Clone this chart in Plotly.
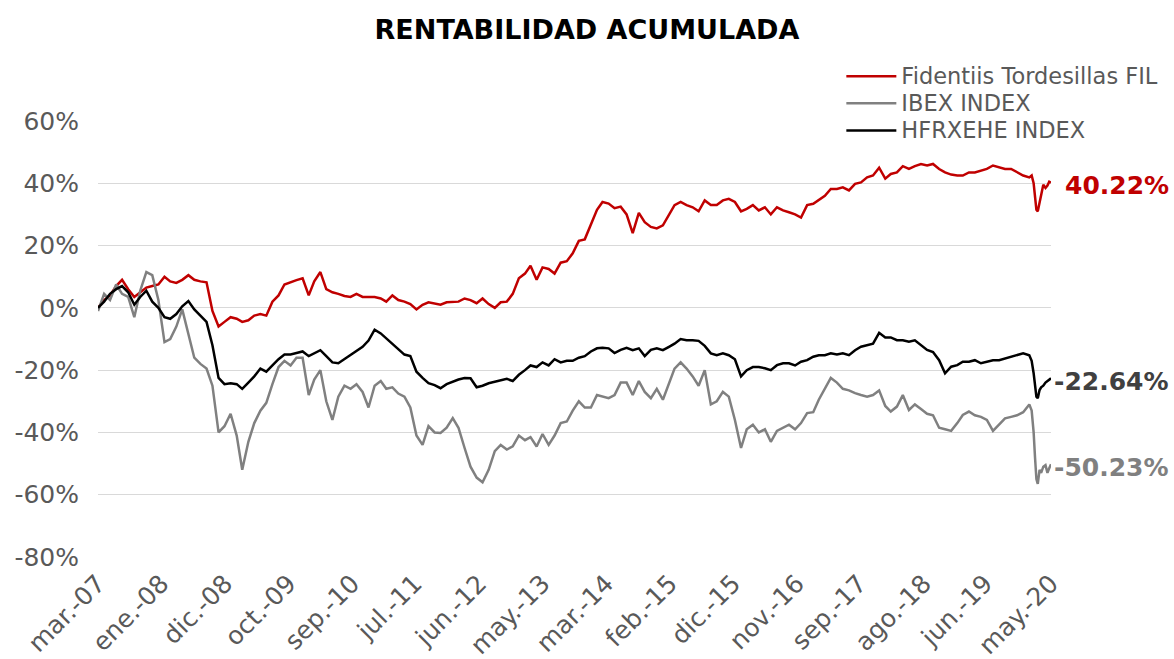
import pandas as pd
import plotly.graph_objects as go

# ---- x positions: monthly observations, plus denser points for the 2020 crash ----
monthly_dates = list(pd.date_range("2007-03-09", periods=156, freq=pd.DateOffset(months=1)))
tail_dates = ["2020-02-21", "2020-03-02", "2020-03-09", "2020-03-16", "2020-03-23", "2020-04-01",
              "2020-04-09", "2020-04-20", "2020-05-01", "2020-05-11", "2020-05-20", "2020-05-29"]
dates = monthly_dates + list(pd.to_datetime(tail_dates))

# ---- cumulative returns (%) ----
fidentiis = [
    0, 2.5, 4, 7, 9, 6, 3.5, 5, 6.5, 7, 7.5, 10, 8.5, 8, 9, 10.5, 9, 8.5, 8.2,
    -1, -6, -4.5, -3, -3.5, -4.5, -4, -2.5, -2, -2.5, 2, 4, 7.5, 8.3, 8.9, 9.5, 4, 8.5, 11.5, 6,
    5, 4.5, 3.8, 3.5, 4.5, 3.5, 3.5, 3.5, 3, 2, 4, 2.5, 2, 1.2, -0.5, 1, 1.8, 1.4, 1, 1.8,
    1.9, 2, 3, 2.5, 1.5, 3, 1.2, 0, 1.8, 2, 4.5, 9.5, 11, 13.5, 9, 13, 12.5, 11, 14.5, 15,
    17.5, 21.5, 22, 26.5, 31.5, 34, 33.5, 32, 32.5, 30, 24, 30.5, 27.5, 26, 25.5, 26.5, 30, 33, 34, 33,
    32.3, 31, 34.5, 33, 33, 34.5, 35, 34, 31, 31.8, 33, 31.3, 32.3, 30, 32.3, 31.3, 30.7, 30, 29, 33,
    33.4, 34.5, 36, 38.2, 38.2, 38.7, 37.7, 39.8, 40.3, 41.9, 42.5, 45, 41.5, 43, 43.5, 45.5, 44.6, 45.5, 46.2, 45.7,
    46.2, 44.6, 43.5, 42.8, 42.5, 42.5, 43.5, 43.5, 44, 44.6, 45.7, 45.1, 44.6, 44.6, 43.5, 42.5, 41.9,
    42.5, 40, 35.5, 31.5, 31, 34, 36.6, 39.5, 38.5, 39.3, 40.5, 40.22,
]
ibex = [
    -1, 4.5, 2.5, 7.5, 4.5, 3.5, -3, 5.5, 11.5, 10.5, 2.5, -11, -10, -6, -0.5, -8, -16, -18, -19.5,
    -25, -40, -38, -34, -41, -52, -43, -37, -33, -30.5, -24.5, -19, -17, -18.5, -16, -16, -28, -23, -20, -30,
    -36, -28.5, -25, -26, -24.5, -27, -32, -25, -23.5, -26, -25.5, -27.5, -28.5, -32, -41, -44, -38, -40, -40.2, -38.5,
    -35.4, -38.5, -45, -51, -54.5, -56, -52, -46, -44, -45.5, -44.5, -41, -42.5, -41.5, -44.5, -40.5, -44, -41, -37, -36.5,
    -33, -30, -32, -32, -28, -28.5, -29, -28, -24, -24, -28, -23.5, -27, -29, -26, -29.5, -24, -19.5, -17.5, -19.5,
    -22, -25, -20, -31, -30, -27, -28.5, -36, -45, -39, -37.5, -40, -39, -43, -39.5, -38.5, -37.5, -39, -37, -33.8,
    -33.5, -29.5, -26, -22.5, -24, -26, -26.5, -27.4, -28, -28.5, -28, -26.5, -31.5, -33.3, -31.7, -28, -32.8, -31, -32.5, -34,
    -34.5, -38.5, -39, -39.5, -37, -34.4, -33.3, -34.5, -35, -36, -39.5, -37.5, -35.5, -35, -34.5, -33.5, -31,
    -33, -40, -48, -55, -56.5, -52, -53, -51, -50.5, -53, -51.5, -50.23,
]
hfrxehe = [
    0, 2, 4.5, 6, 7, 5, 1, 3.5, 5.5, 2, 0, -3, -3.5, -2, 0.5, 2.2, -0.5, -2.5, -4.5,
    -12, -22.5, -24.5, -24.2, -24.5, -26, -24, -22, -19.5, -20.5, -18.5, -16.5, -15, -15, -14.5, -14, -15.5, -14.6, -13.6, -15.5,
    -17.5, -17.8, -16.5, -15.2, -13.8, -12.5, -10.5, -7, -8.2, -9.8, -11.5, -13, -15, -15.5, -20.5, -22.5, -24.2, -24.8, -25.8, -24.5,
    -23.7, -23, -22.5, -22.6, -25.5, -25, -24.2, -23.7, -23.4, -22.8, -23.5, -21.5, -20, -18.5, -19, -17.5, -18.5, -16.5, -17.5, -17,
    -17, -16, -15.5, -14, -13, -12.8, -13, -14.5, -13.5, -12.8, -13.6, -13, -15.5, -13.5, -13, -13.6, -12.5, -11.5, -10, -10.4,
    -10.4, -10.6, -12.2, -14.6, -15.2, -14.6, -15.2, -16.5, -22, -20, -19, -19, -19.4, -20, -18.4, -17.8, -17.8, -18.5, -17.3, -16.8,
    -15.7, -15.2, -15.2, -14.6, -15, -14.6, -15.2, -13.6, -12.5, -12, -11.5, -8, -9.5, -9.5, -10.4, -10.4, -10.9, -10.4, -12, -13.5,
    -14.2, -16.8, -21, -18.9, -18.4, -17.3, -17.3, -16.8, -17.8, -17.3, -16.8, -16.8, -16.2, -15.7, -15.2, -14.6, -15.2,
    -17, -21, -25.3, -28.5, -29, -26.4, -25.5, -25, -24, -23.5, -23, -22.64,
]

series_names = ["Fidentiis Tordesillas FIL", "IBEX INDEX", "HFRXEHE INDEX"]
series_colors = ["#C00000", "#808080", "#000000"]

# ---- axis ticks ----
tick_dates = ["2007-03-09", "2008-01-25", "2008-12-12", "2009-10-30", "2010-09-17", "2011-07-31",
              "2012-06-22", "2013-05-10", "2014-03-28", "2015-02-13", "2015-12-31", "2016-11-18",
              "2017-09-30", "2018-08-24", "2019-06-30", "2020-05-29"]
tick_labels = ["mar.-07", "ene.-08", "dic.-08", "oct.-09", "sep.-10", "jul.-11", "jun.-12", "may.-13",
               "mar.-14", "feb.-15", "dic.-15", "nov.-16", "sep.-17", "ago.-18", "jun.-19", "may.-20"]
y_ticks = [-80, -60, -40, -20, 0, 20, 40, 60]
y_labels = ["-80%", "-60%", "-40%", "-20%", "0%", "20%", "40%", "60%"]

FONT = "DejaVu Sans"
fig = go.Figure()
for name, vals, col in zip(series_names, [fidentiis, ibex, hfrxehe], series_colors):
    fig.add_trace(go.Scatter(x=dates, y=vals, mode="lines",
                             name=f'<span style="font-size:22.5px">{name}</span>',
                             line=dict(color=col, width=2.5)))

# end-of-series value labels (right aligned in the right margin)
for vals, col in zip([fidentiis, hfrxehe, ibex], ["#C00000", "#404040", "#808080"]):
    fig.add_annotation(xref="paper", x=1.126, y=vals[-1], text=f"<b>{vals[-1]:.2f}%</b>",
                       showarrow=False, xanchor="right", yanchor="middle", yshift=-3,
                       font=dict(family=FONT, size=25, color=col))

fig.update_layout(
    width=1174, height=659,
    margin=dict(l=98, r=123, t=121, b=102, autoexpand=False),
    paper_bgcolor="white", plot_bgcolor="white",
    title=dict(text="<b>RENTABILIDAD ACUMULADA</b>", x=0.5, xanchor="center", y=0.955, yanchor="middle",
               font=dict(family=FONT, size=27, color="#000000")),
    font=dict(family=FONT, color="#595959"),
    showlegend=True,
    legend=dict(x=0.78, y=1.145, xanchor="left", yanchor="top", bgcolor="rgba(0,0,0,0)",
                font=dict(family=FONT, size=18.5, color="#595959"), itemwidth=50),
    xaxis=dict(type="date", range=[dates[0], dates[-1]], tickmode="array",
               tickvals=tick_dates, ticktext=tick_labels, tickangle=-45, automargin=False,
               tickfont=dict(family=FONT, size=25, color="#595959"),
               showgrid=False, zeroline=False, showline=False, ticks="", ticklabelstandoff=6),
    yaxis=dict(range=[-80, 60], tickmode="array", tickvals=y_ticks, ticktext=y_labels, automargin=False,
               tickfont=dict(family=FONT, size=25, color="#595959"),
               showgrid=True, gridcolor="#D9D9D9", gridwidth=1.3, zeroline=False, showline=False,
               ticks="", ticklabelstandoff=18),
)

fig.write_html("out.html")
